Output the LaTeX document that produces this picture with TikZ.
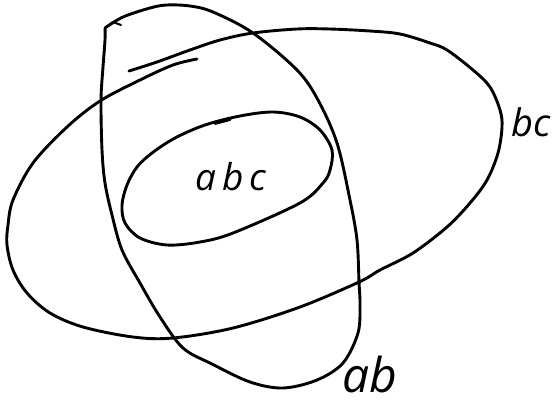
\documentclass[tikz,border=0pt]{standalone}
\usepackage{fontspec}
\newfontfamily\handfont{Open Sans}
\usepackage{tikz}
\begin{document}
\begin{tikzpicture}[x=1pt,y=-1pt,
  pen/.style={line width=2.9pt, line cap=round, line join=round},
  lbl/.style={inner sep=0pt}]
\useasboundingbox (0,0) rectangle (553,405);
% large ellipse bc (open stroke with overlap at upper left)
\draw[pen] plot[smooth, tension=0.55] coordinates {
 (129,71) (157,62) (190,50) (220,40) (253,33) (297,29) (330,29) (370,31)
 (400,34) (430,43) (447,50) (473,70) (490,87) (500,110) (502,127)
 (498,153) (487,180) (470,203) (447,227) (413,253) (380,270) (359,282)
 (300,307) (233,328) (173,338) (133,337) (83,327) (50,313) (27,293)
 (13,270) (7,245) (8,225) (13,200) (33,163) (67,127) (100,101)
 (140,80) (173,65) (197,59)};
% tilted ellipse ab
\draw[pen] plot[smooth, tension=0.55] coordinates {
 (105,28) (123,17) (150,8) (167,5) (190,6) (213,12) (253,33) (297,70)
 (318,100) (337,143) (350,200) (357,240) (359,282) (360,305) (358,333)
 (343,363) (317,380) (283,388) (250,382) (212,364) (183,348) (160,317)
 (140,283) (122,250) (112,215) (105,183) (102,150) (101,100) (103,67)
 (105,40) (105,28)};
\draw[line width=2pt, line cap=round, line join=round] (106,27) -- (113,22) -- (121,25);
% small ellipse abc
\draw[pen] plot[smooth cycle, tension=0.55] coordinates {
 (175,138) (205,125) (240,116) (273,112) (300,117) (320,130) (332,150)
 (330,170) (323,183) (300,203) (233,233) (200,242) (167,245) (140,238)
 (125,223) (122,205) (127,185) (137,167) (152,153)};
\draw[line width=3.8pt, line cap=round] (215,123) -- (230,119);
% labels
\node[lbl, font=\handfont\itshape\fontsize{37}{40}\selectfont] (abc) at (231,177) {a\hspace{6pt}b\hspace{6pt}c};
\node[lbl, font=\handfont\itshape\fontsize{38}{41}\selectfont] (bc) at (531,122) {bc};
\node[lbl, font=\handfont\itshape\fontsize{48}{52}\selectfont] (ab) at (370,374) {ab};
\end{tikzpicture}
\end{document}
